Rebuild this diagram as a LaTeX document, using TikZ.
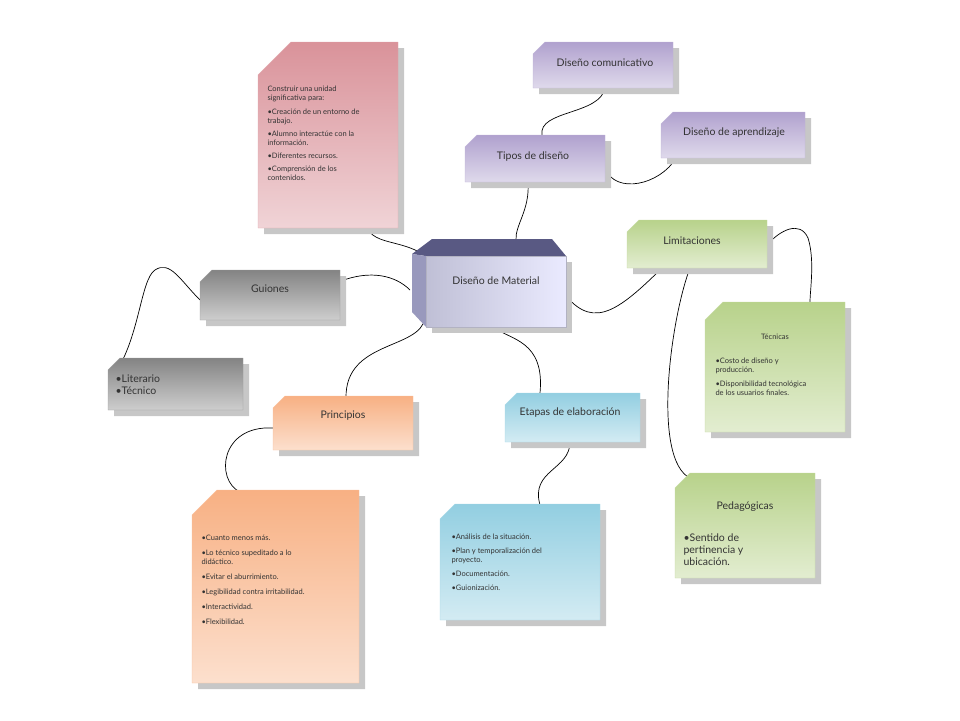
\documentclass[tikz,border=0pt]{standalone}
\usepackage{fontspec}
\setmainfont{Lato}
\begin{document}
\begin{tikzpicture}[x=1pt,y=-1pt,
  lbl/.style={font=\fontsize{10.5}{12}\selectfont, text=black!80},
  lst/.style={font=\fontsize{7.5}{9}\selectfont, text=black!80, align=left},
  conn/.style={black, line width=0.7pt}]
\useasboundingbox (0,0) rectangle (960,720);
\newcommand{\card}[7]{% x1,y1,x2,y2,cut,col,name
  \fill[black!22] (#1+#5+6,#2+6) -- (#3+6,#2+6) -- (#3+6,#4+6) -- (#1+6,#4+6) -- (#1+6,#2+#5+6) -- cycle;
  \shade[top color=#6!75, bottom color=#6!30, draw=#6!60] (#1+#5,#2) -- (#3,#2) -- (#3,#4) -- (#1,#4) -- (#1,#2+#5) -- cycle;
  \coordinate (#7) at ({(#1+#3)/2},{(#2+#4)/2});}
\definecolor{pk}{RGB}{205,110,120}
\definecolor{pu}{RGB}{150,130,190}
\definecolor{gr}{RGB}{160,195,100}
\definecolor{gy}{RGB}{90,90,90}
\definecolor{og}{RGB}{245,150,90}
\definecolor{cy}{RGB}{110,190,215}
% connectors first
\draw[conn] (365,212) .. controls (362,250) and (400,235) .. (428,258);
\draw[conn] (528,182) .. controls (530,210) and (515,225) .. (516,240);
\draw[conn] (542,135) .. controls (538,110) and (600,115) .. (605,88);
\draw[conn] (605,168) .. controls (615,195) and (660,185) .. (676,158);
\draw[conn] (341,281) .. controls (370,270) and (395,275) .. (410,290);
\draw[conn] (200,300) .. controls (180,280) and (170,260) .. (155,270) .. controls (140,280) and (140,340) .. (112,378);
\draw[conn] (425,318) .. controls (420,350) and (345,340) .. (346,398);
\draw[conn] (493,327) .. controls (510,340) and (545,340) .. (540,393);
\draw[conn] (566,296) .. controls (595,330) and (620,310) .. (668,262);
\draw[conn] (767,245) .. controls (780,230) and (800,220) .. (808,238) .. controls (815,260) and (810,290) .. (810,302);
\draw[conn] (690,268) .. controls (670,320) and (650,470) .. (695,480);
\draw[conn] (273,428) .. controls (220,425) and (215,480) .. (240,492);
\draw[conn] (570,442) .. controls (570,470) and (530,470) .. (540,505);
% central 3D box
\fill[black!22] (432,262) rectangle (572,333);
\fill[blue!25!black!65] (412,254) -- (432,239) -- (552,239) -- (566,256) -- (426,256) -- cycle;
\fill[blue!35!black!40] (412,254) -- (426,256) -- (426,327) -- (412,312) -- cycle;
\shade[left color=blue!35!black!25, right color=blue!8!white, draw=blue!20!black!30] (426,256) -- (566,256) -- (566,327) -- (426,327) -- cycle;
\node[lbl] (c) at (496,281) {Diseño de Material};
% cards
\card{258}{42}{398}{228}{33}{pk}{p1}
\node[lst, anchor=north west] (pt) at (264,82) {Construir una unidad\\ significativa para:\\[5pt]
•Creación de un entorno de\\ trabajo.\\[4pt] •Alumno interactúe con la\\ información.\\[4pt] •Diferentes recursos.\\[4pt] •Comprensión de los\\ contenidos.};
\card{533}{42}{673}{88}{12}{pu}{dc}\node[lbl] at (605,63) {Diseño comunicativo};
\card{661}{112}{805}{158}{12}{pu}{da}\node[lbl] at (734,133) {Diseño de aprendizaje};
\card{465}{135}{605}{182}{12}{pu}{td}\node[lbl] at (533,157) {Tipos de diseño};
\card{627}{220}{767}{268}{12}{gr}{li}\node[lbl] at (692,241) {Limitaciones};
\card{200}{270}{340}{320}{12}{gy}{gu}\node[lbl] at (270,289) {Guiones};
\card{108}{358}{243}{410}{12}{gy}{lt}\node[lbl, align=left, anchor=north west] at (112,371) {•Literario\\•Técnico};
\card{705}{302}{845}{432}{18}{gr}{te}
\node[lst, anchor=north] at (775,330) {Técnicas};
\node[lst, anchor=north west] at (712,354) {•Costo de diseño y\\ producción.\\[5pt] •Disponibilidad tecnológica\\ de los usuarios finales.};
\card{273}{396}{413}{450}{12}{og}{pr}\node[lbl] at (343,416) {Principios};
\card{505}{393}{640}{442}{12}{cy}{et}\node[lbl] at (570,413) {Etapas de elaboración};
\card{675}{473}{815}{578}{15}{gr}{pe}\node[lbl] at (745,507) {Pedagógicas};
\node[lbl, align=left, anchor=north west] at (680,530) {•Sentido de\\ pertinencia y\\ ubicación.};
\card{192}{490}{359}{683}{25}{og}{pl}
\node[lst, anchor=north west] at (198,532) {•Cuanto menos más.\\[6pt] •Lo técnico supeditado a lo\\ didáctico.\\[6pt] •Evitar el aburrimiento.\\[6pt] •Legibilidad contra irritabilidad.\\[6pt] •Interactividad.\\[6pt] •Flexibilidad.};
\card{440}{504}{600}{620}{15}{cy}{el}
\node[lst, anchor=north west] at (448,530) {•Análisis de la situación.\\[5pt] •Plan y temporalización del\\ proyecto.\\[5pt] •Documentación.\\[5pt] •Guionización.};
\end{tikzpicture}
\end{document}
